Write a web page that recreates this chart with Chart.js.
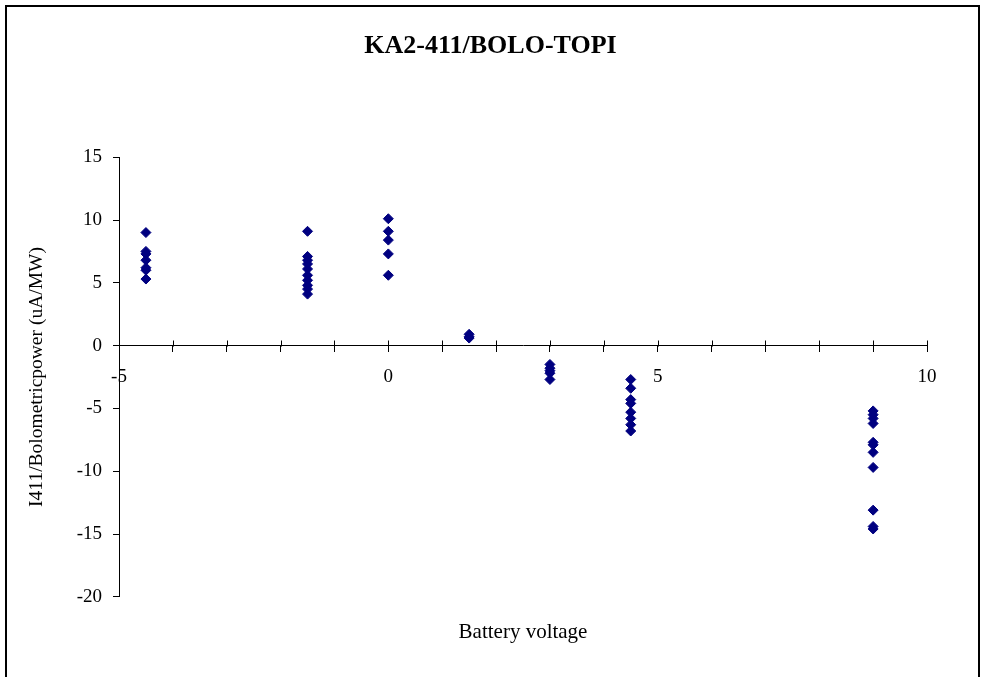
<!DOCTYPE html>
<html lang="en">
<head>
  <meta charset="UTF-8">
  <title>KA2-411/BOLO-TOPI</title>
  <script src="https://cdn.jsdelivr.net/npm/chart.js@4.4.1/dist/chart.umd.min.js"></script>
  <style>
    body { margin: 0; background: #fff; }
    #wrap { width: 981px; height: 677px; }
  </style>
</head>
<body>
  <div id="wrap"><canvas id="chart"></canvas></div>

  <script>
  // battery voltage of each measurement group
  const voltages = [-4.5, -1.5, 0, 1.5, 3, 4.5, 9];

  // I411 / bolometric power (uA/MW) per group
  const valsM45 = [9.0, 7.5, 7.3, 6.8, 6.2, 6.0, 5.3];
  const valsM15 = [9.1, 7.1, 6.8, 6.5, 6.1, 5.6, 5.2, 4.8, 4.5, 4.1];
  const vals0   = [10.1, 9.1, 8.4, 7.3, 5.6];
  const vals15  = [0.9, 0.7, 0.6];
  const vals3   = [-1.5, -1.8, -2.0, -2.2, -2.7];
  const vals45  = [-2.7, -3.4, -4.3, -4.6, -5.3, -5.8, -6.3, -6.8];
  const vals9   = [-5.2, -5.5, -5.8, -6.2, -7.7, -7.9, -8.5, -9.7, -13.1, -14.4, -14.6];

  const groups = [valsM45, valsM15, vals0, vals15, vals3, vals45, vals9];

  const points = [];
  groups.forEach((g, i) => g.forEach(v => points.push({ x: voltages[i], y: v })));

  const serif = "'Times New Roman', 'Liberation Serif', serif";

  // page frame + upper half of the crossing x tick marks
  const extras = {
    id: 'extras',
    beforeDraw(chart) {
      const c = chart.ctx;
      c.save();
      c.fillStyle = '#fff';
      c.fillRect(0, 0, chart.width, chart.height);
      c.strokeStyle = '#000';
      c.lineWidth = 2;
      c.beginPath();
      c.moveTo(6, chart.height + 2);
      c.lineTo(6, 6);
      c.lineTo(979, 6);
      c.lineTo(979, chart.height + 2);
      c.stroke();
      c.restore();
    },
    afterDraw(chart) {
      const xs = chart.scales.x, ys = chart.scales.y;
      const y0 = Math.round(ys.getPixelForValue(0)) + 0.5;
      const c = chart.ctx;
      c.save();
      c.strokeStyle = '#000';
      c.lineWidth = 1;
      c.beginPath();
      xs.ticks.forEach((t, i) => {
        if (i === 0) return;
        const px = Math.round(xs.getPixelForTick(i)) + 0.5;
        c.moveTo(px, y0);
        c.lineTo(px, y0 - 6);
      });
      c.stroke();
      c.restore();
    }
  };

  new Chart(document.getElementById('chart'), {
    type: 'scatter',
    data: {
      datasets: [{
        data: points,
        pointStyle: 'rectRot',
        pointRadius: 5,
        pointHoverRadius: 5,
        backgroundColor: '#000080',
        borderColor: '#000080',
        borderWidth: 1
      }]
    },
    options: {
      responsive: true,
      maintainAspectRatio: false,
      animation: false,
      events: [],
      layout: { padding: 0 },
      plugins: {
        legend: { display: false },
        tooltip: { enabled: false },
        title: {
          display: true,
          text: 'KA2-411/BOLO-TOPI',
          color: '#000',
          font: { family: serif, size: 26, weight: 'bold' },
          padding: { top: 31, bottom: 95 }
        },
        subtitle: {
          display: true,
          position: 'bottom',
          fullSize: false,
          text: 'Battery voltage',
          color: '#000',
          font: { family: serif, size: 21 },
          padding: { top: 23, bottom: 32 }
        }
      },
      scales: {
        x: {
          type: 'linear',
          position: { y: 0 },
          min: -5,
          max: 10,
          border: { display: true, color: '#000', width: 1 },
          grid: { drawOnChartArea: false, drawTicks: true, tickLength: 6, color: '#000' },
          ticks: {
            stepSize: 1,
            autoSkip: false,
            maxRotation: 0,
            padding: 14,
            color: '#000',
            font: { family: serif, size: 19 },
            callback: v => (v % 5 === 0 ? String(v) : '')
          }
        },
        y: {
          type: 'linear',
          position: 'left',
          min: -20,
          max: 15,
          border: { display: true, color: '#000', width: 1 },
          grid: { drawOnChartArea: false, drawTicks: true, tickLength: 6, color: '#000' },
          ticks: {
            stepSize: 5,
            padding: 11,
            color: '#000',
            font: { family: serif, size: 19 }
          },
          title: {
            display: true,
            text: 'I411/Bolometricpower (uA/MW)',
            color: '#000',
            font: { family: serif, size: 19.5 },
            padding: { top: 25, bottom: 0 }
          },
          afterFit(scale) { scale.width = 119; }
        },
        // empty right-hand space so the plot ends at the same place as the original
        yRight: {
          type: 'linear',
          position: 'right',
          display: true,
          grid: { display: false },
          border: { display: false },
          ticks: { display: false },
          afterFit(scale) { scale.width = 54; }
        }
      }
    },
    plugins: [extras]
  });
  </script>
</body>
</html>
